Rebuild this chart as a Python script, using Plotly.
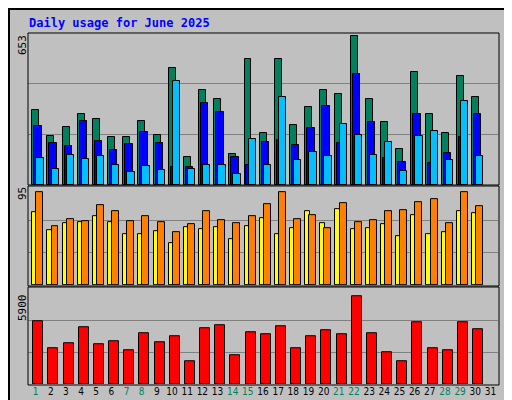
import plotly.graph_objects as go

days = list(range(1, 32))
weekend = [1, 7, 8, 14, 15, 21, 22, 28, 29]

hits = [324, 212, 250, 307, 285, 207, 207, 276, 216, 501, 121, 406, 371, 134, 540,
        225, 540, 259, 337, 410, 393, 640, 371, 272, 155, 484, 307, 225, 467, 376]
files = [255, 181, 168, 276, 190, 151, 177, 229, 181, 78, 78, 354, 315, 121, 86,
         186, 194, 173, 246, 341, 181, 479, 272, 117, 99, 307, 95, 138, 207, 307]
pages = [117, 69, 130, 112, 125, 86, 56, 82, 65, 445, 69, 86, 86, 48, 199,
         86, 376, 108, 143, 125, 263, 216, 130, 186, 60, 212, 233, 108, 359, 125]
sites = [71, 54, 61, 62, 68, 62, 50, 50, 53, 41, 57, 55, 57, 45, 58,
         66, 50, 56, 72, 61, 74, 55, 56, 60, 48, 69, 50, 52, 72, 70]
visits = [91, 58, 65, 63, 78, 72, 63, 68, 62, 52, 60, 72, 64, 61, 68,
          79, 91, 65, 69, 56, 80, 62, 64, 72, 73, 81, 84, 61, 91, 77]
kbytes = [3914, 2228, 2529, 3552, 2469, 2649, 2107, 3131, 2589, 2950, 1445, 3492, 3673, 1806, 3251,
          3071, 3613, 2228, 2950, 3372, 3071, 5479, 3191, 1987, 1445, 3853, 2228, 2107, 3853, 3432]
max_hits, max_visits, max_kb = 653, 95, 5900

GREEN, BLUE, CYAN = '#00805C', '#0000FF', '#00C0FF'
YEL, ORA, RED = '#FFFF00', '#FF8000', '#FF0000'
BG = '#C0C0C0'
xd = days[:30]
mono = 'DejaVu Sans Mono'

def bar(y, color, off, w, ax):
    return go.Bar(x=xd, y=y, offset=off, width=w, marker=dict(color=color, line=dict(color='black', width=1)),
                  xaxis=ax[0], yaxis=ax[1], showlegend=False, hoverinfo='skip')

fig = go.Figure()
fig.add_trace(bar(hits, GREEN, -0.22, 0.46, ('x', 'y')))
fig.add_trace(bar(files, BLUE, -0.09, 0.49, ('x', 'y')))
fig.add_trace(bar(pages, CYAN, 0.05, 0.48, ('x', 'y')))
fig.add_trace(bar(sites, YEL, -0.22, 0.33, ('x2', 'y2')))
fig.add_trace(bar(visits, ORA, 0.05, 0.46, ('x2', 'y2')))
fig.add_trace(bar(kbytes, RED, -0.15, 0.66, ('x3', 'y3')))

ticktext = ["<span style='color:%s'>%d</span>" % (GREEN if d in weekend else 'black', d) for d in days]
xcommon = dict(range=[0.5, 31.5], showgrid=False, zeroline=False, showline=False, fixedrange=True)
fig.update_layout(
    xaxis=dict(xcommon, anchor='y', showticklabels=False),
    xaxis2=dict(xcommon, anchor='y2', showticklabels=False),
    xaxis3=dict(xcommon, anchor='y3', tickvals=days, ticktext=ticktext, ticks='', tickangle=0,
                tickfont=dict(family='DejaVu Sans Condensed', size=10)),
    yaxis=dict(domain=[0.567, 1], range=[0, max_hits], tickvals=[max_hits / 3, 2 * max_hits / 3],
               showticklabels=False, gridcolor='#808080', zeroline=False),
    yaxis2=dict(domain=[0.282, 0.558], range=[0, max_visits], tickvals=[max_visits / 3, 2 * max_visits / 3],
                showticklabels=False, gridcolor='#808080', zeroline=False),
    yaxis3=dict(domain=[0, 0.27], range=[0, max_kb], tickvals=[max_kb / 3, 2 * max_kb / 3],
                showticklabels=False, gridcolor='#808080', zeroline=False),
    barmode='overlay', bargap=0,
    width=512, height=400, margin=dict(l=20, r=22, t=25, b=24),
    paper_bgcolor=BG, plot_bgcolor=BG,
)

# positions given in figure pixels, converted to paper coords of the plot area
def pix(text, px, py, color='black', angle=0, size=11, xanchor='center', yanchor='middle'):
    fig.add_annotation(x=(px - 20) / 470, y=(376 - py) / 351, xref='paper', yref='paper', text=text,
                       showarrow=False, textangle=angle, font=dict(family=mono, size=size, color=color),
                       xanchor=xanchor, yanchor=yanchor)

pix('<b>Daily usage for June 2025</b>', 19, 15, color='#0000FF', size=12, xanchor='left')
pix('653', 14, 37, angle=-90)
pix('95', 14, 186, angle=-90)
pix('5900', 14, 300, angle=-90)
pix("<span style='color:%s'>Pages</span> / <span style='color:%s'>Files</span> / <span style='color:%s'>Hits</span>"
    % (CYAN, BLUE, GREEN), 493, 83, angle=-90, xanchor='left')
pix("<span style='color:%s'>Sites</span> / <span style='color:%s'>Visits</span>" % (ORA, YEL),
    493, 227, angle=-90, xanchor='left')
pix("<span style='color:%s'>KBytes</span>" % RED, 493, 345, angle=-90, xanchor='left')

def rect(x0, y0, x1, y1, color, w=1):
    fig.add_shape(type='rect', xref='paper', yref='paper', x0=(x0 - 20) / 470, x1=(x1 - 20) / 470,
                  y0=(376 - y0) / 351, y1=(376 - y1) / 351, line=dict(color=color, width=w))

rect(20, 25, 491, 177, 'black')
rect(20, 178, 491, 278, 'black')
rect(20, 279, 491, 377, 'black')
rect(1, 1, 510, 398, 'black', 2)

fig.write_html('out.html')
